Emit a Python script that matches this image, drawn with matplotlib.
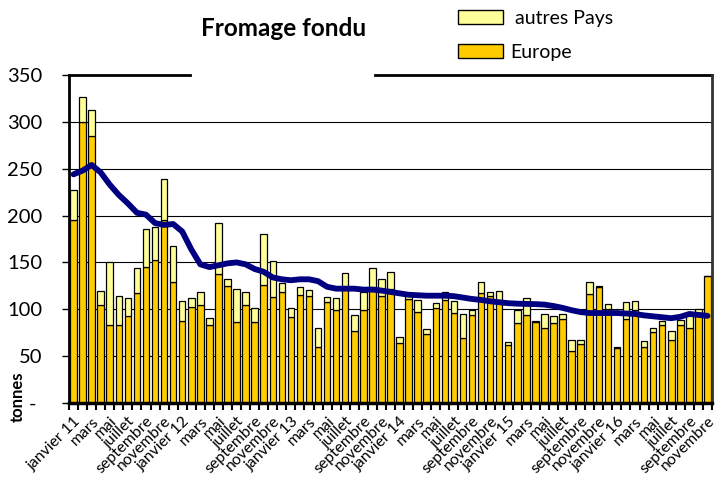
import matplotlib
matplotlib.use("Agg")
import matplotlib.pyplot as plt
from matplotlib.patches import Patch
from matplotlib.transforms import ScaledTranslation
import numpy as np

plt.rcParams['font.family'] = ['Lato', 'DejaVu Sans']

# Monthly data, janvier 2011 -> novembre 2016
total = [227, 327, 313, 119, 150, 114, 112, 144, 186, 188, 239, 168,
         109, 112, 118, 91, 192, 132, 122, 118, 101, 180, 152, 128,
         101, 124, 121, 80, 113, 112, 139, 94, 118, 144, 132, 140,
         70, 115, 110, 79, 107, 118, 109, 95, 99, 129, 118, 119,
         65, 99, 112, 88, 95, 93, 95, 67, 67, 129, 125, 106,
         59.5, 108, 109, 66, 80, 88, 77, 89, 94, 100, 136]
europe = [195, 300, 285, 105, 83, 83, 93, 117, 145, 153, 195, 129,
          88, 102, 105, 83, 138, 125, 86, 105, 86, 126, 113, 118,
          92, 115, 114, 60, 108, 99, 122, 77, 99, 124, 114, 122,
          64, 111, 97, 74, 101, 110, 96, 69, 94, 117, 114, 110,
          62, 85, 94, 86, 80, 85, 90, 56, 63, 116, 124, 100,
          59, 90, 99, 60, 76, 83, 67, 83, 80, 96, 135]
moyenne = [244, 248, 254, 246, 233, 222, 213, 203, 201, 192, 190, 191,
           183, 164, 148, 145, 147, 149, 150, 148, 143, 140, 134, 132,
           131, 132, 132, 130, 124, 122, 122, 122, 121, 121, 120, 118.5,
           117, 115.5, 115, 114.5, 114.5, 114.5, 114, 112.5, 111, 110, 108.5, 107.5,
           106.5, 106, 105.7, 105.5, 105, 103.5, 101.5, 99, 97, 96, 96, 96,
           96, 95.5, 95, 93.5, 92.5, 91.5, 90.5, 92, 95, 94, 93]
autres = [t - e for t, e in zip(total, europe)]

mois = ["janvier", "février", "mars", "avril", "mai", "juin", "juillet",
        "août", "septembre", "octobre", "novembre", "décembre"]
labels = []
for i in range(len(total)):
    m = i % 12
    if m == 0:
        labels.append(f"janvier {11 + i // 12}")
    else:
        labels.append(mois[m])

yticks = [0, 50, 100, 150, 200, 250, 300, 350]
ytick_labels = ['-', '50', '100', '150', '200', '250', '300', '350']

fig = plt.figure(figsize=(7.15, 4.83), dpi=100)
ax = fig.add_axes([69/715, 1-403/483, 643/715, 328/483])

x = np.arange(len(total))
ax.bar(x, europe, width=0.72, color='#FFCC00', edgecolor='black', linewidth=0.9, zorder=2)
ax.bar(x, autres, bottom=europe, width=0.72, color='#FFFF99', edgecolor='black', linewidth=0.9, zorder=2)
ax.plot(x, moyenne, color='#000080', linewidth=4.2, zorder=3, solid_capstyle='round')

ax.set_xlim(-0.5, len(total) - 0.5)
ax.set_ylim(0, 350)
ax.set_yticks(yticks)
ax.set_yticklabels(ytick_labels, fontsize=14.5)
ax.tick_params(axis='y', length=5, width=1, pad=14)
# accounting-style dash for zero sits a little left of the numbers
zero_lbl = ax.get_yticklabels()[0]
zero_lbl.set_transform(zero_lbl.get_transform() + ScaledTranslation(-6/100, 0, fig.dpi_scale_trans))
for yv in yticks[1:-1]:
    ax.axhline(yv, color='black', linewidth=0.8, zorder=1)

ax.set_xticks(x[::2])
ax.set_xticklabels(labels[::2], rotation=45, ha='right', rotation_mode='anchor', fontsize=11.3)
ax.tick_params(axis='x', which='major', length=0, pad=8)
ax.set_xticks(np.arange(-0.5, len(total), 1), minor=True)
ax.tick_params(axis='x', which='minor', length=5, width=1.5, direction='out')

ax.spines['top'].set_visible(False)
ax.spines['left'].set_linewidth(2)
ax.spines['bottom'].set_linewidth(2.5)
ax.spines['right'].set_linewidth(2)
ax.spines['right'].set_color('#333333')
ax.plot([0, (190-69)/643], [1, 1], transform=ax.transAxes, color='black', lw=2, clip_on=False)
ax.plot([(375-69)/643, 1], [1, 1], transform=ax.transAxes, color='black', lw=2, clip_on=False)

fig.text(284/715, 1-28/483, 'Fromage fondu', ha='center', va='center', fontsize=17.5, fontweight='bold')
fig.text(18/715, 1-397/483, 'tonnes', rotation=90, ha='center', va='center', fontsize=12, fontweight='bold')

handles = [Patch(facecolor='#FFFF99', edgecolor='black', label=' autres Pays'),
           Patch(facecolor='#FFCC00', edgecolor='black', label='Europe')]
fig.legend(handles=handles, loc='upper left', bbox_to_anchor=(458/715, 1-10/483), frameon=False,
           borderpad=0, borderaxespad=0,
           fontsize=14, handlelength=2.3, handleheight=0.7, labelspacing=0.85, handletextpad=0.4)

fig.savefig('out.png', dpi=100)
